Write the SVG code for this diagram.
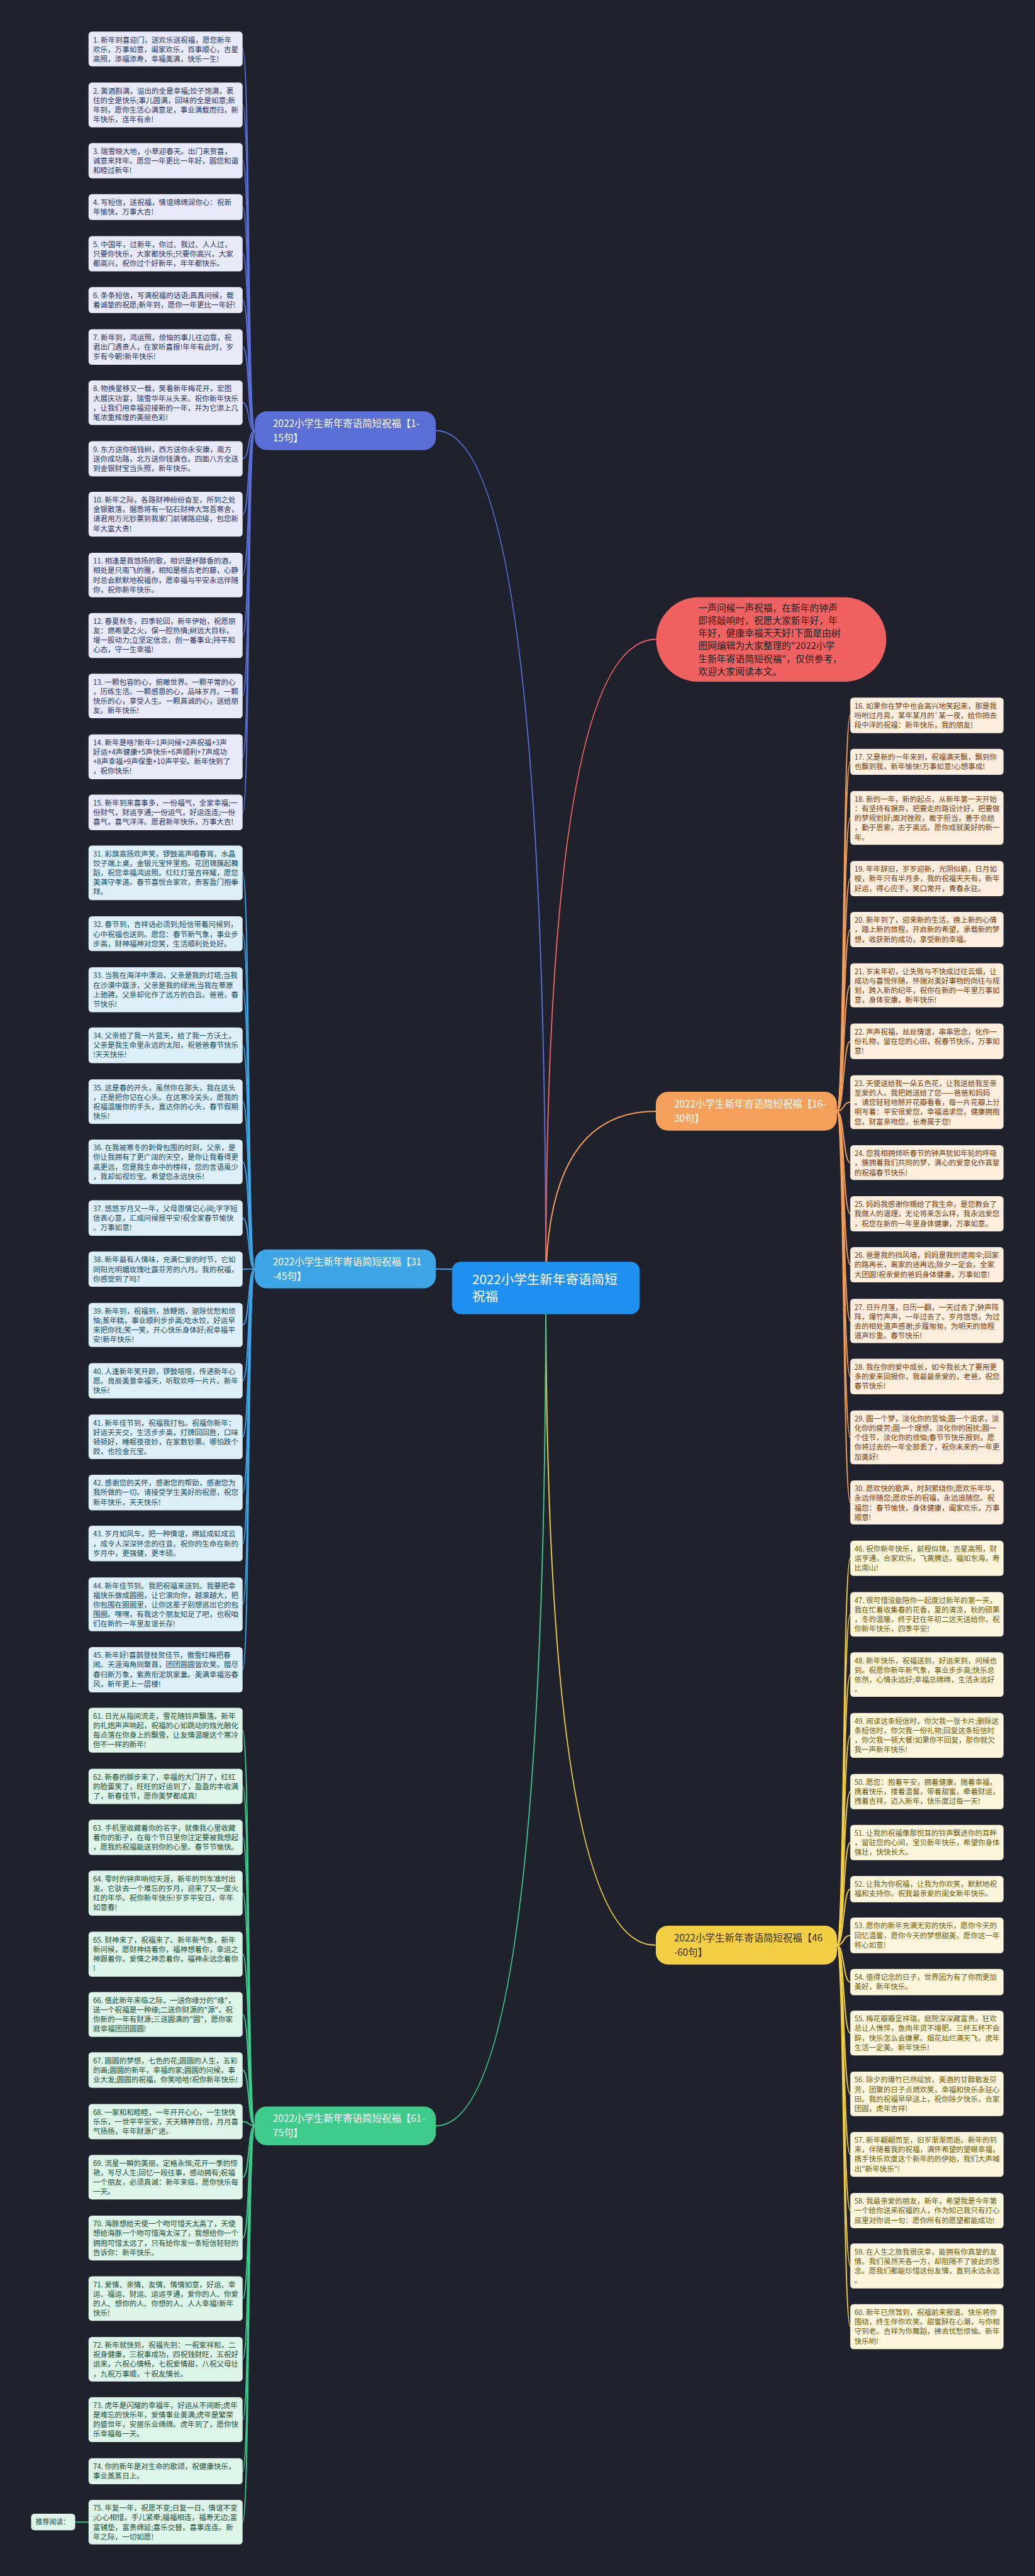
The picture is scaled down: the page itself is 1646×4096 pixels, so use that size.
<svg xmlns="http://www.w3.org/2000/svg" width="1646" height="4096" viewBox="0 0 1646 4096">
<style>
text{font-family:"Noto Sans CJK SC","Noto Sans",sans-serif}
.lt{font-size:18px}
.bt{font-size:24px}
.box{}
.g1 .box{fill:#e8eaf9}.g1 text{fill:#28346a}
.g2 .box{fill:#fdeede}.g2 text{fill:#7a3b0c}
.g3 .box{fill:#ddf0fa}.g3 text{fill:#164a63}
.g4 .box{fill:#fcf7dc}.g4 text{fill:#6f5a0c}
.g5 .box{fill:#ddf4e9}.g5 text{fill:#1b5038}
.cn{fill:none;stroke-width:3;stroke-linecap:round}
.k1{stroke:#5a6ed6}.k2{stroke:#f4a05a}.k3{stroke:#3ea6e6}.k4{stroke:#f3cf45}.k5{stroke:#3ecb8c}.k0{stroke:#f06262}
</style>
<rect x="0" y="0" width="1646" height="4096" fill="#1f222d"/>
<g transform="scale(0.643)">
<g id="connectors">
<path class="cn k1" d="M1350,3185 Q1350,1065 1078,1065"/>
<path class="cn k0" d="M1350,3185 Q1350,1581 1623,1581"/>
<path class="cn k2" d="M1350,3185 Q1350,2748 1622,2748"/>
<path class="cn k3" d="M1350,3185 Q1350,3138 1078,3138"/>
<path class="cn k4" d="M1350,3185 Q1350,4810 1620,4810"/>
<path class="cn k5" d="M1350,3185 Q1350,5257 1078,5257"/>
<g class="cn k1">
<path d="M630,1065 C612,1065 618,121 600,121"/><path d="M630,1065 C612,1065 618,259.5 600,259.5"/><path d="M630,1065 C612,1065 618,397.5 600,397.5"/><path d="M630,1065 C612,1065 618,512 600,512"/><path d="M630,1065 C612,1065 618,627.5 600,627.5"/><path d="M630,1065 C612,1065 618,742 600,742"/><path d="M630,1065 C612,1065 618,858 600,858"/><path d="M630,1065 C612,1065 618,996 600,996"/><path d="M630,1065 C612,1065 618,1134.5 600,1134.5"/><path d="M630,1065 C612,1065 618,1271.5 600,1271.5"/><path d="M630,1065 C612,1065 618,1422 600,1422"/><path d="M630,1065 C612,1065 618,1571.5 600,1571.5"/><path d="M630,1065 C612,1065 618,1721 600,1721"/><path d="M630,1065 C612,1065 618,1871.5 600,1871.5"/><path d="M630,1065 C612,1065 618,2009 600,2009"/>
</g>
<g class="cn k3">
<path d="M630,3138 C612,3138 618,2158.5 600,2158.5"/><path d="M630,3138 C612,3138 618,2309 600,2309"/><path d="M630,3138 C612,3138 618,2447.5 600,2447.5"/><path d="M630,3138 C612,3138 618,2585 600,2585"/><path d="M630,3138 C612,3138 618,2724 600,2724"/><path d="M630,3138 C612,3138 618,2873 600,2873"/><path d="M630,3138 C612,3138 618,3012 600,3012"/><path d="M630,3138 C612,3138 618,3138.5 600,3138.5"/><path d="M630,3138 C612,3138 618,3276.5 600,3276.5"/><path d="M630,3138 C612,3138 618,3414.5 600,3414.5"/><path d="M630,3138 C612,3138 618,3553 600,3553"/><path d="M630,3138 C612,3138 618,3691 600,3691"/><path d="M630,3138 C612,3138 618,3817 600,3817"/><path d="M630,3138 C612,3138 618,3967.5 600,3967.5"/><path d="M630,3138 C612,3138 618,4129 600,4129"/>
</g>
<g class="cn k5">
<path d="M630,5257 C612,5257 618,4278.5 600,4278.5"/><path d="M630,5257 C612,5257 618,4417.5 600,4417.5"/><path d="M630,5257 C612,5257 618,4543.5 600,4543.5"/><path d="M630,5257 C612,5257 618,4681.5 600,4681.5"/><path d="M630,5257 C612,5257 618,4832.5 600,4832.5"/><path d="M630,5257 C612,5257 618,4981.5 600,4981.5"/><path d="M630,5257 C612,5257 618,5119 600,5119"/><path d="M630,5257 C612,5257 618,5246.5 600,5246.5"/><path d="M630,5257 C612,5257 618,5384 600,5384"/><path d="M630,5257 C612,5257 618,5534.5 600,5534.5"/><path d="M630,5257 C612,5257 618,5684 600,5684"/><path d="M630,5257 C612,5257 618,5834 600,5834"/><path d="M630,5257 C612,5257 618,5983.5 600,5983.5"/><path d="M630,5257 C612,5257 618,6111 600,6111"/><path d="M630,5257 C612,5257 618,6237 600,6237"/>
<path d="M186,6237 L219,6237"/>
</g>
<g class="cn k2">
<path d="M2070,2748 C2088,2748 2085,1769 2103,1769"/><path d="M2070,2748 C2088,2748 2085,1884 2103,1884"/><path d="M2070,2748 C2088,2748 2085,2022.5 2103,2022.5"/><path d="M2070,2748 C2088,2748 2085,2172.5 2103,2172.5"/><path d="M2070,2748 C2088,2748 2085,2298.5 2103,2298.5"/><path d="M2070,2748 C2088,2748 2085,2436.5 2103,2436.5"/><path d="M2070,2748 C2088,2748 2085,2575 2103,2575"/><path d="M2070,2748 C2088,2748 2085,2725.5 2103,2725.5"/><path d="M2070,2748 C2088,2748 2085,2875 2103,2875"/><path d="M2070,2748 C2088,2748 2085,3001.5 2103,3001.5"/><path d="M2070,2748 C2088,2748 2085,3127.5 2103,3127.5"/><path d="M2070,2748 C2088,2748 2085,3266.5 2103,3266.5"/><path d="M2070,2748 C2088,2748 2085,3404 2103,3404"/><path d="M2070,2748 C2088,2748 2085,3554.5 2103,3554.5"/><path d="M2070,2748 C2088,2748 2085,3715.5 2103,3715.5"/>
</g>
<g class="cn k4">
<path d="M2070,4810 C2088,4810 2085,3853.5 2103,3853.5"/><path d="M2070,4810 C2088,4810 2085,3992 2103,3992"/><path d="M2070,4810 C2088,4810 2085,4141 2103,4141"/><path d="M2070,4810 C2088,4810 2085,4291.5 2103,4291.5"/><path d="M2070,4810 C2088,4810 2085,4430.5 2103,4430.5"/><path d="M2070,4810 C2088,4810 2085,4556.5 2103,4556.5"/><path d="M2070,4810 C2088,4810 2085,4671.5 2103,4671.5"/><path d="M2070,4810 C2088,4810 2085,4786 2103,4786"/><path d="M2070,4810 C2088,4810 2085,4901.5 2103,4901.5"/><path d="M2070,4810 C2088,4810 2085,5027.5 2103,5027.5"/><path d="M2070,4810 C2088,4810 2085,5178 2103,5178"/><path d="M2070,4810 C2088,4810 2085,5327.5 2103,5327.5"/><path d="M2070,4810 C2088,4810 2085,5466.5 2103,5466.5"/><path d="M2070,4810 C2088,4810 2085,5603.5 2103,5603.5"/><path d="M2070,4810 C2088,4810 2085,5753.5 2103,5753.5"/>
</g>
</g>

<g id="center"><rect x="1118" y="3120" width="464" height="130" rx="22" fill="#1f8ff0"/><text font-size="32" fill="#ffffff"><tspan x="1168" y="3175">2022小学生新年寄语简短</tspan><tspan x="1168" y="3217">祝福</tspan></text></g>

<g id="intro"><rect x="1623" y="1477" width="569" height="209" rx="104.5" fill="#f06262"/><text font-size="23" fill="#1c1c1c"><tspan x="1727" y="1512">一声问候一声祝福，在新年的钟声</tspan><tspan x="1727" y="1543">即将敲响时，祝愿大家新年好，年</tspan><tspan x="1727" y="1574.5">年好，健康幸福天天好!下面是由树</tspan><tspan x="1727" y="1605.5">图网编辑为大家整理的"2022小学</tspan><tspan x="1727" y="1637">生新年寄语简短祝福"，仅供参考，</tspan><tspan x="1727" y="1668">欢迎大家阅读本文。</tspan></text></g>

<g id="b1"><rect x="630" y="1017" width="448" height="96" rx="30" fill="#5a6ed6"/><text class="bt" fill="#ffffff"><tspan x="675" y="1055.5">2022小学生新年寄语简短祝福【1-</tspan><tspan x="675" y="1091.5">15句】</tspan></text></g>
<g id="b16"><rect x="1622" y="2700" width="448" height="96" rx="30" fill="#f4a05a"/><text class="bt" fill="#ffffff"><tspan x="1667" y="2738.5">2022小学生新年寄语简短祝福【16-</tspan><tspan x="1667" y="2774.5">30句】</tspan></text></g>
<g id="b31"><rect x="630" y="3090" width="448" height="96" rx="30" fill="#3ea6e6"/><text class="bt" fill="#ffffff"><tspan x="675" y="3128.5">2022小学生新年寄语简短祝福【31</tspan><tspan x="675" y="3164.5">-45句】</tspan></text></g>
<g id="b46"><rect x="1622" y="4762" width="448" height="96" rx="30" fill="#f3cf45"/><text class="bt" fill="#3a3000"><tspan x="1667" y="4800.5">2022小学生新年寄语简短祝福【46</tspan><tspan x="1667" y="4836.5">-60句】</tspan></text></g>
<g id="b61"><rect x="630" y="5209" width="448" height="96" rx="30" fill="#3ecb8c"/><text class="bt" fill="#ffffff"><tspan x="675" y="5247.5">2022小学生新年寄语简短祝福【61-</tspan><tspan x="675" y="5283.5">75句】</tspan></text></g>

<g id="rec" class="g5"><rect class="box" x="77" y="6216" width="109" height="41" rx="8"/><text font-size="17" x="88" y="6243">推荐阅读：</text></g>

<g id="n1" class="g1"><rect class="box" x="219" y="78" width="381" height="86" rx="8"/><text class="lt"><tspan x="230" y="105">1. 新年到喜迎门，送欢乐送祝福，愿您新年</tspan><tspan x="230" y="128.5">欢乐，万事如意，阖家欢乐，百事顺心，吉星</tspan><tspan x="230" y="152">高照，添福添寿，幸福美满，快乐一生!</tspan></text></g>
<g id="n2" class="g1"><rect class="box" x="219" y="204" width="381" height="111" rx="8"/><text class="lt"><tspan x="230" y="231">2. 美酒斟满，溢出的全是幸福;饺子饱满，裹</tspan><tspan x="230" y="254.5">住的全是快乐;事儿圆满，回味的全是如意;新</tspan><tspan x="230" y="278">年到，愿你生活心满意足，事业满载而归，新</tspan><tspan x="230" y="301.5">年快乐，连年有余!</tspan></text></g>
<g id="n3" class="g1"><rect class="box" x="219" y="354" width="381" height="87" rx="8"/><text class="lt"><tspan x="230" y="381">3. 瑞雪映大地，小草迎春天。出门来贺喜，</tspan><tspan x="230" y="404.5">诚意来拜年。愿您一年更比一年好，圆您和谐</tspan><tspan x="230" y="428">和睦过新年!</tspan></text></g>
<g id="n4" class="g1"><rect class="box" x="219" y="480" width="381" height="64" rx="8"/><text class="lt"><tspan x="230" y="507">4. 写短信，送祝福，情谊绵绵润你心：祝新</tspan><tspan x="230" y="530.5">年愉快，万事大吉!</tspan></text></g>
<g id="n5" class="g1"><rect class="box" x="219" y="584" width="381" height="87" rx="8"/><text class="lt"><tspan x="230" y="611">5. 中国年，过新年，你过、我过、人人过，</tspan><tspan x="230" y="634.5">只要你快乐，大家都快乐;只要你高兴，大家</tspan><tspan x="230" y="658">都高兴，祝你过个好新年，年年都快乐。</tspan></text></g>
<g id="n6" class="g1"><rect class="box" x="219" y="710" width="381" height="64" rx="8"/><text class="lt"><tspan x="230" y="737">6. 条条短信，写满祝福的话语;真真问候，载</tspan><tspan x="230" y="760.5">着诚挚的祝愿;新年到，愿你一年更比一年好!</tspan></text></g>
<g id="n7" class="g1"><rect class="box" x="219" y="814" width="381" height="88" rx="8"/><text class="lt"><tspan x="230" y="841">7. 新年到，鸿运照，烦恼的事儿往边靠，祝</tspan><tspan x="230" y="864.5">君出门遇贵人，在家听喜报!年年有此时，岁</tspan><tspan x="230" y="888">岁有今朝!新年快乐!</tspan></text></g>
<g id="n8" class="g1"><rect class="box" x="219" y="941" width="381" height="110" rx="8"/><text class="lt"><tspan x="230" y="968">8. 物换星移又一载，笑看新年梅花开，宏图</tspan><tspan x="230" y="991.5">大展庆功宴，瑞雪华年从头来。祝你新年快乐</tspan><tspan x="230" y="1015">，让我们用幸福迎接新的一年，并为它添上几</tspan><tspan x="230" y="1038.5">笔浓重辉煌的美丽色彩!</tspan></text></g>
<g id="n9" class="g1"><rect class="box" x="219" y="1091" width="381" height="87" rx="8"/><text class="lt"><tspan x="230" y="1118">9. 东方送你摇钱树，西方送你永安康，南方</tspan><tspan x="230" y="1141.5">送你成功路，北方送你钱满仓。四面八方全送</tspan><tspan x="230" y="1165">到金银财宝当头照，新年快乐。</tspan></text></g>
<g id="n10" class="g1"><rect class="box" x="219" y="1216" width="381" height="111" rx="8"/><text class="lt"><tspan x="230" y="1243">10. 新年之际，各路财神纷纷沓至，所到之处</tspan><tspan x="230" y="1266.5">金银散落，据悉将有一钻石财神大驾吾寒舍，</tspan><tspan x="230" y="1290">请君用万元钞票到我家门前铺路迎接，包您新</tspan><tspan x="230" y="1313.5">年大富大贵!</tspan></text></g>
<g id="n11" class="g1"><rect class="box" x="219" y="1367" width="381" height="110" rx="8"/><text class="lt"><tspan x="230" y="1394">11. 相逢是首悠扬的歌，相识是杯醇香的酒，</tspan><tspan x="230" y="1417.5">相处是只南飞的雁，相知是根古老的藤，心静</tspan><tspan x="230" y="1441">时总会默默地祝福你，愿幸福与平安永远伴随</tspan><tspan x="230" y="1464.5">你，祝你新年快乐。</tspan></text></g>
<g id="n12" class="g1"><rect class="box" x="219" y="1516" width="381" height="111" rx="8"/><text class="lt"><tspan x="230" y="1543">12. 春夏秋冬，四季轮回，新年伊始，祝愿朋</tspan><tspan x="230" y="1566.5">友：燃希望之火，保一腔热情;树远大目标，</tspan><tspan x="230" y="1590">增一股动力;立坚定信念，创一番事业;持平和</tspan><tspan x="230" y="1613.5">心态，守一生幸福!</tspan></text></g>
<g id="n13" class="g1"><rect class="box" x="219" y="1666" width="381" height="110" rx="8"/><text class="lt"><tspan x="230" y="1693">13. 一颗包容的心，俯瞰世界。一颗平常的心</tspan><tspan x="230" y="1716.5">，历练生活。一颗感恩的心，品味岁月。一颗</tspan><tspan x="230" y="1740">快乐的心，享受人生。一颗真诚的心，送给朋</tspan><tspan x="230" y="1763.5">友。新年快乐!</tspan></text></g>
<g id="n14" class="g1"><rect class="box" x="219" y="1816" width="381" height="111" rx="8"/><text class="lt"><tspan x="230" y="1843">14. 新年是啥?新年=1声问候+2声祝福+3声</tspan><tspan x="230" y="1866.5">好运+4声健康+5声快乐+6声顺利+7声成功</tspan><tspan x="230" y="1890">+8声幸福+9声保重+10声平安。新年快到了</tspan><tspan x="230" y="1913.5">，祝你快乐!</tspan></text></g>
<g id="n15" class="g1"><rect class="box" x="219" y="1965" width="381" height="88" rx="8"/><text class="lt"><tspan x="230" y="1992">15. 新年到来喜事多，一份福气，全家幸福;一</tspan><tspan x="230" y="2015.5">份财气，财运亨通;一份运气，好运连连;一份</tspan><tspan x="230" y="2039">喜气，喜气洋洋。愿君新年快乐，万事大吉!</tspan></text></g>

<g id="n31" class="g3"><rect class="box" x="219" y="2091" width="381" height="135" rx="8"/><text class="lt"><tspan x="230" y="2118">31. 彩旗高扬欢声笑，锣鼓高声唱春宵。水晶</tspan><tspan x="230" y="2141.5">饺子端上桌，金银元宝怀里抱。花团锦簇起舞</tspan><tspan x="230" y="2165">蹈，祝您幸福鸿运照。红红灯笼吉祥耀，愿您</tspan><tspan x="230" y="2188.5">美满守孝道。春节喜悦合家欢，贵客盈门抱拳</tspan><tspan x="230" y="2212">拜。</tspan></text></g>
<g id="n32" class="g3"><rect class="box" x="219" y="2266" width="381" height="86" rx="8"/><text class="lt"><tspan x="230" y="2293">32. 春节到，吉祥话必须到;短信带着问候到，</tspan><tspan x="230" y="2316.5">心中祝福也送到。愿您：春节新气象，事业步</tspan><tspan x="230" y="2340">步高，财神福神对您笑，生活顺利处处好。</tspan></text></g>
<g id="n33" class="g3"><rect class="box" x="219" y="2392" width="381" height="111" rx="8"/><text class="lt"><tspan x="230" y="2419">33. 当我在海洋中漂泊，父亲是我的灯塔;当我</tspan><tspan x="230" y="2442.5">在沙漠中跋涉，父亲是我的绿洲;当我在草原</tspan><tspan x="230" y="2466">上驰骋，父亲却化作了远方的白云。爸爸，春</tspan><tspan x="230" y="2489.5">节快乐!</tspan></text></g>
<g id="n34" class="g3"><rect class="box" x="219" y="2541" width="381" height="88" rx="8"/><text class="lt"><tspan x="230" y="2568">34. 父亲给了我一片蓝天，给了我一方沃土，</tspan><tspan x="230" y="2591.5">父亲是我生命里永远的太阳，祝爸爸春节快乐</tspan><tspan x="230" y="2615">!天天快乐!</tspan></text></g>
<g id="n35" class="g3"><rect class="box" x="219" y="2669" width="381" height="110" rx="8"/><text class="lt"><tspan x="230" y="2696">35. 这是春的开头，虽然你在那头，我在这头</tspan><tspan x="230" y="2719.5">，还是把你记在心头。在这寒冷关头，愿我的</tspan><tspan x="230" y="2743">祝福温暖你的手头，直达你的心头，春节假期</tspan><tspan x="230" y="2766.5">快乐!</tspan></text></g>
<g id="n36" class="g3"><rect class="box" x="219" y="2818" width="381" height="110" rx="8"/><text class="lt"><tspan x="230" y="2845">36. 在我被寒冬的刺骨包围的时刻，父亲，是</tspan><tspan x="230" y="2868.5">你让我拥有了更广阔的天空，是你让我看得更</tspan><tspan x="230" y="2892">高更远，您是我生命中的榜样，您的言语虽少</tspan><tspan x="230" y="2915.5">，我却如视珍宝。希望您永远快乐!</tspan></text></g>
<g id="n37" class="g3"><rect class="box" x="219" y="2968" width="381" height="88" rx="8"/><text class="lt"><tspan x="230" y="2995">37. 悠悠岁月又一年，父母恩情记心间;字字短</tspan><tspan x="230" y="3018.5">信表心意，汇成问候报平安!祝全家春节愉快</tspan><tspan x="230" y="3042">、万事如意!</tspan></text></g>
<g id="n38" class="g3"><rect class="box" x="219" y="3095" width="381" height="87" rx="8"/><text class="lt"><tspan x="230" y="3122">38. 新年最有人情味，充满仁爱的时节，它如</tspan><tspan x="230" y="3145.5">同阳光明媚玫瑰吐露芬芳的六月。我的祝福，</tspan><tspan x="230" y="3169">你感觉到了吗?</tspan></text></g>
<g id="n39" class="g3"><rect class="box" x="219" y="3222" width="381" height="109" rx="8"/><text class="lt"><tspan x="230" y="3249">39. 新年到，祝福到，放鞭炮，驱除忧愁和烦</tspan><tspan x="230" y="3272.5">恼;蒸年糕，事业顺利步步高;吃水饺，好运早</tspan><tspan x="230" y="3296">来把你找;笑一笑，开心快乐身体好;祝幸福平</tspan><tspan x="230" y="3319.5">安!新年快乐!</tspan></text></g>
<g id="n40" class="g3"><rect class="box" x="219" y="3371" width="381" height="87" rx="8"/><text class="lt"><tspan x="230" y="3398">40. 人逢新年笑开颜，锣鼓喧喧，传递新年心</tspan><tspan x="230" y="3421.5">愿。良辰美景幸福天，听取欢呼一片片。新年</tspan><tspan x="230" y="3445">快乐!</tspan></text></g>
<g id="n41" class="g3"><rect class="box" x="219" y="3498" width="381" height="110" rx="8"/><text class="lt"><tspan x="230" y="3525">41. 新年佳节到，祝福我打包。祝福你新年：</tspan><tspan x="230" y="3548.5">好运天天交，生活步步高，打牌回回胜，口味</tspan><tspan x="230" y="3572">顿顿好，睡眠夜夜妙，在家数钞票。哪怕跌个</tspan><tspan x="230" y="3595.5">跤，也捡金元宝。</tspan></text></g>
<g id="n42" class="g3"><rect class="box" x="219" y="3647" width="381" height="88" rx="8"/><text class="lt"><tspan x="230" y="3674">42. 感谢您的关怀，感谢您的帮助，感谢您为</tspan><tspan x="230" y="3697.5">我所做的一切。请接受学生美好的祝愿，祝您</tspan><tspan x="230" y="3721">新年快乐，天天快乐!</tspan></text></g>
<g id="n43" class="g3"><rect class="box" x="219" y="3773" width="381" height="88" rx="8"/><text class="lt"><tspan x="230" y="3800">43. 岁月如风车，把一种情谊，绵延成虹成云</tspan><tspan x="230" y="3823.5">，成令人深深怀念的往昔。祝你的生命在新的</tspan><tspan x="230" y="3847">岁月中，更强健，更丰硕。</tspan></text></g>
<g id="n44" class="g3"><rect class="box" x="219" y="3901" width="381" height="133" rx="8"/><text class="lt"><tspan x="230" y="3928">44. 新年佳节到。我把祝福来送到。我要把幸</tspan><tspan x="230" y="3951.5">福快乐做成圆圈，让它滚向你，越滚越大，把</tspan><tspan x="230" y="3975">你包围在圈圈里，让你这辈子别想逃出它的包</tspan><tspan x="230" y="3998.5">围圈。嘿嘿，有我这个朋友知足了吧，也祝咱</tspan><tspan x="230" y="4022">们在新的一年里友谊长存!</tspan></text></g>
<g id="n45" class="g3"><rect class="box" x="219" y="4073" width="381" height="112" rx="8"/><text class="lt"><tspan x="230" y="4100">45. 新年好!喜鹊登枝贺佳节，傲雪红梅把春</tspan><tspan x="230" y="4123.5">闹。天涯海角同聚首，团团圆圆皆欢笑。腊尽</tspan><tspan x="230" y="4147">春归新万象，紫燕衔泥筑家巢。美满幸福浴春</tspan><tspan x="230" y="4170.5">风，新年更上一层楼!</tspan></text></g>

<g id="n61" class="g5"><rect class="box" x="219" y="4223" width="381" height="111" rx="8"/><text class="lt"><tspan x="230" y="4250">61. 日光从指间流走，雪花随铃声飘落。新年</tspan><tspan x="230" y="4273.5">的礼炮声声响起，祝福的心如跳动的烛光融化</tspan><tspan x="230" y="4297">每点落在你身上的飘雪，让友情温暖这个寒冷</tspan><tspan x="230" y="4320.5">但不一样的新年!</tspan></text></g>
<g id="n62" class="g5"><rect class="box" x="219" y="4374" width="381" height="87" rx="8"/><text class="lt"><tspan x="230" y="4401">62. 新春的脚步来了，幸福的大门开了，红红</tspan><tspan x="230" y="4424.5">的脸蛋笑了，旺旺的好运到了，盈盈的丰收满</tspan><tspan x="230" y="4448">了，新春佳节，愿你美梦都成真!</tspan></text></g>
<g id="n63" class="g5"><rect class="box" x="219" y="4500" width="381" height="87" rx="8"/><text class="lt"><tspan x="230" y="4527">63. 手机里收藏着你的名字，就像我心里收藏</tspan><tspan x="230" y="4550.5">着你的影子，在每个节日里你注定要被我想起</tspan><tspan x="230" y="4574">，愿我的祝福能送到你的心里。春节节愉快。</tspan></text></g>
<g id="n64" class="g5"><rect class="box" x="219" y="4626" width="381" height="111" rx="8"/><text class="lt"><tspan x="230" y="4653">64. 零时的钟声响彻天涯，新年的列车准时出</tspan><tspan x="230" y="4676.5">发。它驮去一个难忘的岁月，迎来了又一度火</tspan><tspan x="230" y="4700">红的年华。祝你新年快乐!岁岁平安日，年年</tspan><tspan x="230" y="4723.5">如意春!</tspan></text></g>
<g id="n65" class="g5"><rect class="box" x="219" y="4777" width="381" height="111" rx="8"/><text class="lt"><tspan x="230" y="4804">65. 财神来了，祝福来了。新年新气象，新年</tspan><tspan x="230" y="4827.5">新问候，愿财神绕着你，福神想着你，幸运之</tspan><tspan x="230" y="4851">神跟着你，爱情之神恋着你，福神永远念着你</tspan><tspan x="230" y="4874.5">!</tspan></text></g>
<g id="n66" class="g5"><rect class="box" x="219" y="4926" width="381" height="111" rx="8"/><text class="lt"><tspan x="230" y="4953">66. 值此新年来临之际，一送你缘分的"缘"，</tspan><tspan x="230" y="4976.5">送一个祝福是一种缘;二送你财源的"源"，祝</tspan><tspan x="230" y="5000">你新的一年有财源;三送圆满的"圆"，愿你家</tspan><tspan x="230" y="5023.5">庭幸福团团圆圆!</tspan></text></g>
<g id="n67" class="g5"><rect class="box" x="219" y="5075" width="381" height="88" rx="8"/><text class="lt"><tspan x="230" y="5102">67. 圆圆的梦想，七色的花;圆圆的人生，五彩</tspan><tspan x="230" y="5125.5">的画;圆圆的新年，幸福的家;圆圆的问候，事</tspan><tspan x="230" y="5149">业大发;圆圆的祝福，你笑哈哈!祝你新年快乐!</tspan></text></g>
<g id="n68" class="g5"><rect class="box" x="219" y="5203" width="381" height="87" rx="8"/><text class="lt"><tspan x="230" y="5230">68. 一家和和睦睦，一年开开心心，一生快快</tspan><tspan x="230" y="5253.5">乐乐，一世平平安安，天天精神百倍，月月喜</tspan><tspan x="230" y="5277">气扬扬，年年财源广进。</tspan></text></g>
<g id="n69" class="g5"><rect class="box" x="219" y="5329" width="381" height="110" rx="8"/><text class="lt"><tspan x="230" y="5356">69. 流星一瞬的美丽，定格永恒;花开一季的惊</tspan><tspan x="230" y="5379.5">艳，写尽人生;回忆一段往事，感动拥有;祝福</tspan><tspan x="230" y="5403">一个朋友，必须真诚：新年来临，愿你快乐每</tspan><tspan x="230" y="5426.5">一天。</tspan></text></g>
<g id="n70" class="g5"><rect class="box" x="219" y="5479" width="381" height="111" rx="8"/><text class="lt"><tspan x="230" y="5506">70. 海豚想给天使一个吻可惜天太高了，天使</tspan><tspan x="230" y="5529.5">想给海豚一个吻可惜海太深了，我想给你一个</tspan><tspan x="230" y="5553">拥抱可惜太远了，只有给你发一条短信轻轻的</tspan><tspan x="230" y="5576.5">告诉你：新年快乐。</tspan></text></g>
<g id="n71" class="g5"><rect class="box" x="219" y="5629" width="381" height="110" rx="8"/><text class="lt"><tspan x="230" y="5656">71. 爱情、亲情、友情、情情如意，好运、幸</tspan><tspan x="230" y="5679.5">运、福运、财运、运运亨通，爱你的人、你爱</tspan><tspan x="230" y="5703">的人、想你的人、你想的人、人人幸福!新年</tspan><tspan x="230" y="5726.5">快乐!</tspan></text></g>
<g id="n72" class="g5"><rect class="box" x="219" y="5779" width="381" height="110" rx="8"/><text class="lt"><tspan x="230" y="5806">72. 新年就快到，祝福先到：一祝家祥和，二</tspan><tspan x="230" y="5829.5">祝身健康，三祝事成功，四祝钱财旺，五祝好</tspan><tspan x="230" y="5853">运来，六祝心情畅，七祝爱情甜，八祝父母壮</tspan><tspan x="230" y="5876.5">，九祝万事顺，十祝友情长。</tspan></text></g>
<g id="n73" class="g5"><rect class="box" x="219" y="5928" width="381" height="111" rx="8"/><text class="lt"><tspan x="230" y="5955">73. 虎年是闪耀的幸福年，好运从不间断;虎年</tspan><tspan x="230" y="5978.5">是难忘的快乐年，爱情事业美满;虎年是繁荣</tspan><tspan x="230" y="6002">的盛世年，安居乐业绵绵。虎年到了，愿你快</tspan><tspan x="230" y="6025.5">乐幸福每一天。</tspan></text></g>
<g id="n74" class="g5"><rect class="box" x="219" y="6079" width="381" height="64" rx="8"/><text class="lt"><tspan x="230" y="6106">74. 你的新年是对生命的歌颂，祝健康快乐，</tspan><tspan x="230" y="6129.5">事业蒸蒸日上。</tspan></text></g>
<g id="n75" class="g5"><rect class="box" x="219" y="6182" width="381" height="110" rx="8"/><text class="lt"><tspan x="230" y="6209">75. 年复一年，祝愿不变;日复一日，情谊不变</tspan><tspan x="230" y="6232.5">;心心相惜，手儿紧牵;福福相连，福寿无边;富</tspan><tspan x="230" y="6256">富铺垫，富贵绵延;喜乐交替，喜事连连。新</tspan><tspan x="230" y="6279.5">年之际，一切如愿!</tspan></text></g>

<g id="n16" class="g2"><rect class="box" x="2103" y="1725" width="379" height="88" rx="8"/><text class="lt"><tspan x="2113" y="1752">16. 如果你在梦中也会高兴地笑起来，那是我</tspan><tspan x="2113" y="1775.5">吩咐过月亮，某年某月的`某一夜，给你捎去</tspan><tspan x="2113" y="1799">段中洋的祝福：新年快乐，我的朋友!</tspan></text></g>
<g id="n17" class="g2"><rect class="box" x="2103" y="1852" width="379" height="64" rx="8"/><text class="lt"><tspan x="2113" y="1879">17. 又是新的一年来到，祝福满天飘，飘到你</tspan><tspan x="2113" y="1902.5">也飘到我，新年愉快!万事如意!心想事成!</tspan></text></g>
<g id="n18" class="g2"><rect class="box" x="2103" y="1956" width="379" height="133" rx="8"/><text class="lt"><tspan x="2113" y="1983">18. 新的一年，新的起点，从新年第一天开始</tspan><tspan x="2113" y="2006.5">：有坚持有摒弃，把要走的路设计好，把要做</tspan><tspan x="2113" y="2030">的梦规划好;面对挫败，敢于担当，善于总结</tspan><tspan x="2113" y="2053.5">，勤于思索，志于高远。愿你成就美好的新一</tspan><tspan x="2113" y="2077">年。</tspan></text></g>
<g id="n19" class="g2"><rect class="box" x="2103" y="2129" width="379" height="87" rx="8"/><text class="lt"><tspan x="2113" y="2156">19. 年年辞旧，岁岁迎新，光阴似箭，日月如</tspan><tspan x="2113" y="2179.5">梭，新年只有半月多，我的祝福天天有，新年</tspan><tspan x="2113" y="2203">好运，得心应手，笑口常开，青春永驻。</tspan></text></g>
<g id="n20" class="g2"><rect class="box" x="2103" y="2255" width="379" height="87" rx="8"/><text class="lt"><tspan x="2113" y="2282">20. 新年到了，迎来新的生活，换上新的心情</tspan><tspan x="2113" y="2305.5">，踏上新的旅程，开启新的希望，承载新的梦</tspan><tspan x="2113" y="2329">想，收获新的成功，享受新的幸福。</tspan></text></g>
<g id="n21" class="g2"><rect class="box" x="2103" y="2382" width="379" height="109" rx="8"/><text class="lt"><tspan x="2113" y="2409">21. 岁末年初，让失败与不快成过往云烟，让</tspan><tspan x="2113" y="2432.5">成功与喜悦伴随，怀揣对美好事物的向往与规</tspan><tspan x="2113" y="2456">划，跨入新的纪年，祝你在新的一年里万事如</tspan><tspan x="2113" y="2479.5">意，身体安康，新年快乐!</tspan></text></g>
<g id="n22" class="g2"><rect class="box" x="2103" y="2531" width="379" height="88" rx="8"/><text class="lt"><tspan x="2113" y="2558">22. 声声祝福，丝丝情谊，串串思念，化作一</tspan><tspan x="2113" y="2581.5">份礼物，留在您的心田，祝春节快乐，万事如</tspan><tspan x="2113" y="2605">意!</tspan></text></g>
<g id="n23" class="g2"><rect class="box" x="2103" y="2659" width="379" height="133" rx="8"/><text class="lt"><tspan x="2113" y="2686">23. 天使送给我一朵五色花，让我送给我至亲</tspan><tspan x="2113" y="2709.5">至爱的人。我把她送给了您——爸爸和妈妈</tspan><tspan x="2113" y="2733">。请您轻轻地掰开花瓣看看，每一片花瓣上分</tspan><tspan x="2113" y="2756.5">明写着：平安很爱您，幸福追求您，健康拥抱</tspan><tspan x="2113" y="2780">您，财富亲吻您，长寿属于您!</tspan></text></g>
<g id="n24" class="g2"><rect class="box" x="2103" y="2832" width="379" height="86" rx="8"/><text class="lt"><tspan x="2113" y="2859">24. 您我相拥倾听春节的钟声犹如年轮的呼吸</tspan><tspan x="2113" y="2882.5">，簇拥着我们共同的梦，满心的爱意化作真挚</tspan><tspan x="2113" y="2906">的祝福春节快乐!</tspan></text></g>
<g id="n25" class="g2"><rect class="box" x="2103" y="2958" width="379" height="87" rx="8"/><text class="lt"><tspan x="2113" y="2985">25. 妈妈我感谢你赐给了我生命，是您教会了</tspan><tspan x="2113" y="3008.5">我做人的道理，无论将来怎么样，我永远爱您</tspan><tspan x="2113" y="3032">，祝您在新的一年里身体健康，万事如意。</tspan></text></g>
<g id="n26" class="g2"><rect class="box" x="2103" y="3084" width="379" height="87" rx="8"/><text class="lt"><tspan x="2113" y="3111">26. 爸是我的挡风墙，妈妈是我的遮雨伞;回家</tspan><tspan x="2113" y="3134.5">的路再长，离家的途再远;除夕一定会，全家</tspan><tspan x="2113" y="3158">大团圆!祝亲爱的爸妈身体健康，万事如意!</tspan></text></g>
<g id="n27" class="g2"><rect class="box" x="2103" y="3212" width="379" height="109" rx="8"/><text class="lt"><tspan x="2113" y="3239">27. 日升月落，日历一翻，一天过去了;钟声阵</tspan><tspan x="2113" y="3262.5">阵，爆竹声声，一年过去了。岁月悠悠，为过</tspan><tspan x="2113" y="3286">去的相处道声感谢;步履匆匆，为明天的旅程</tspan><tspan x="2113" y="3309.5">道声珍重。春节快乐!</tspan></text></g>
<g id="n28" class="g2"><rect class="box" x="2103" y="3360" width="379" height="88" rx="8"/><text class="lt"><tspan x="2113" y="3387">28. 我在你的爱中成长，如今我长大了要用更</tspan><tspan x="2113" y="3410.5">多的爱来回报你，我最最亲爱的，老爸，祝您</tspan><tspan x="2113" y="3434">春节快乐!</tspan></text></g>
<g id="n29" class="g2"><rect class="box" x="2103" y="3488" width="379" height="133" rx="8"/><text class="lt"><tspan x="2113" y="3515">29. 圆一个梦，淡化你的苦恼;圆一个追求，淡</tspan><tspan x="2113" y="3538.5">化你的疲劳;圆一个理想，淡化你的困扰;圆一</tspan><tspan x="2113" y="3562">个佳节，淡化你的烦恼;春节节快乐报到，愿</tspan><tspan x="2113" y="3585.5">你将过去的一年全部丢了，祝你未来的一年更</tspan><tspan x="2113" y="3609">加美好!</tspan></text></g>
<g id="n30" class="g2"><rect class="box" x="2103" y="3661" width="379" height="109" rx="8"/><text class="lt"><tspan x="2113" y="3688">30. 愿欢快的歌声，时刻萦绕你;愿欢乐年华，</tspan><tspan x="2113" y="3711.5">永远伴随您;愿欢乐的祝福，永远追随您。祝</tspan><tspan x="2113" y="3735">福您：春节愉快，身体健康，阖家欢乐，万事</tspan><tspan x="2113" y="3758.5">顺意!</tspan></text></g>

<g id="n46" class="g4"><rect class="box" x="2103" y="3810" width="379" height="87" rx="8"/><text class="lt"><tspan x="2113" y="3837">46. 祝你新年快乐，前程似锦，吉星高照，财</tspan><tspan x="2113" y="3860.5">运亨通，合家欢乐，飞黄腾达，福如东海，寿</tspan><tspan x="2113" y="3884">比南山!</tspan></text></g>
<g id="n47" class="g4"><rect class="box" x="2103" y="3937" width="379" height="110" rx="8"/><text class="lt"><tspan x="2113" y="3964">47. 很可惜没能陪你一起度过新年的第一天，</tspan><tspan x="2113" y="3987.5">我在忙着收集春的花香，夏的清凉，秋的硕果</tspan><tspan x="2113" y="4011">，冬的温暖，终于赶在年初二这天送给你，祝</tspan><tspan x="2113" y="4034.5">你新年快乐，四季平安!</tspan></text></g>
<g id="n48" class="g4"><rect class="box" x="2103" y="4086" width="379" height="110" rx="8"/><text class="lt"><tspan x="2113" y="4113">48. 新年快乐，祝福送到，好运来到，问候也</tspan><tspan x="2113" y="4136.5">到。祝愿你新年新气象，事业步步高;快乐总</tspan><tspan x="2113" y="4160">依然，心情永远好;幸福总绵绵，生活永远好</tspan><tspan x="2113" y="4183.5">。</tspan></text></g>
<g id="n49" class="g4"><rect class="box" x="2103" y="4236" width="379" height="111" rx="8"/><text class="lt"><tspan x="2113" y="4263">49. 阅读这条短信时，你欠我一张卡片;删除这</tspan><tspan x="2113" y="4286.5">条短信时，你欠我一份礼物;回复这条短信时</tspan><tspan x="2113" y="4310">，你欠我一顿大餐!如果你不回复，那你就欠</tspan><tspan x="2113" y="4333.5">我一声新年快乐!</tspan></text></g>
<g id="n50" class="g4"><rect class="box" x="2103" y="4387" width="379" height="87" rx="8"/><text class="lt"><tspan x="2113" y="4414">50. 愿您：抱着平安，拥着健康，揣着幸福，</tspan><tspan x="2113" y="4437.5">携着快乐，搂着温馨，带着甜蜜，牵着财运，</tspan><tspan x="2113" y="4461">拽着吉祥，迈入新年，快乐度过每一天!</tspan></text></g>
<g id="n51" class="g4"><rect class="box" x="2103" y="4513" width="379" height="87" rx="8"/><text class="lt"><tspan x="2113" y="4540">51. 让我的祝福像那悦耳的铃声飘进你的耳畔</tspan><tspan x="2113" y="4563.5">，留驻您的心间，宝贝新年快乐，希望你身体</tspan><tspan x="2113" y="4587">强壮，快快长大。</tspan></text></g>
<g id="n52" class="g4"><rect class="box" x="2103" y="4639" width="379" height="65" rx="8"/><text class="lt"><tspan x="2113" y="4666">52. 让我为你祝福，让我为你欢笑，默默地祝</tspan><tspan x="2113" y="4689.5">福和支持你。祝我最亲爱的闺女新年快乐。</tspan></text></g>
<g id="n53" class="g4"><rect class="box" x="2103" y="4742" width="379" height="88" rx="8"/><text class="lt"><tspan x="2113" y="4769">53. 愿你的新年充满无穷的快乐，愿你今天的</tspan><tspan x="2113" y="4792.5">回忆温馨，愿你今天的梦想甜美，愿你这一年</tspan><tspan x="2113" y="4816">称心如意!</tspan></text></g>
<g id="n54" class="g4"><rect class="box" x="2103" y="4869" width="379" height="65" rx="8"/><text class="lt"><tspan x="2113" y="4896">54. 值得记念的日子，世界因为有了你而更加</tspan><tspan x="2113" y="4919.5">美好，新年快乐。</tspan></text></g>
<g id="n55" class="g4"><rect class="box" x="2103" y="4972" width="379" height="111" rx="8"/><text class="lt"><tspan x="2113" y="4999">55. 梅花瓣瓣呈祥瑞，庭院深深藏富贵。狂欢</tspan><tspan x="2113" y="5022.5">总让人憔悴，鱼肉年货不增肥。三杯五杯不会</tspan><tspan x="2113" y="5046">醉，快乐怎么会嫌累。烟花灿烂满天飞，虎年</tspan><tspan x="2113" y="5069.5">生活一定美。新年快乐!</tspan></text></g>
<g id="n56" class="g4"><rect class="box" x="2103" y="5123" width="379" height="110" rx="8"/><text class="lt"><tspan x="2113" y="5150">56. 除夕的爆竹已然绽放，美酒的甘醇散发芬</tspan><tspan x="2113" y="5173.5">芳，团聚的日子点燃欢笑，幸福和快乐永驻心</tspan><tspan x="2113" y="5197">田。我的祝福早早送上，祝你除夕快乐，合家</tspan><tspan x="2113" y="5220.5">团圆，虎年吉祥!</tspan></text></g>
<g id="n57" class="g4"><rect class="box" x="2103" y="5272" width="379" height="111" rx="8"/><text class="lt"><tspan x="2113" y="5299">57. 新年翩翩而至，旧岁渐渐而逝。新年的到</tspan><tspan x="2113" y="5322.5">来，伴随着我的祝福，满怀希望的望眼幸福，</tspan><tspan x="2113" y="5346">携手快乐欢度这个新年的的伊始，我们大声喊</tspan><tspan x="2113" y="5369.5">出"新年快乐"!</tspan></text></g>
<g id="n58" class="g4"><rect class="box" x="2103" y="5423" width="379" height="87" rx="8"/><text class="lt"><tspan x="2113" y="5450">58. 我最亲爱的朋友，新年，希望我是今年第</tspan><tspan x="2113" y="5473.5">一个给你送来祝福的人，作为知己我只有打心</tspan><tspan x="2113" y="5497">底里对你说一句：愿你所有的愿望都能成功!</tspan></text></g>
<g id="n59" class="g4"><rect class="box" x="2103" y="5548" width="379" height="111" rx="8"/><text class="lt"><tspan x="2113" y="5575">59. 在人生之旅我很庆幸，能拥有你真挚的友</tspan><tspan x="2113" y="5598.5">情。我们虽然天各一方，却阻隔不了彼此的思</tspan><tspan x="2113" y="5622">念。愿我们都能珍惜这份友情，直到永远永远</tspan><tspan x="2113" y="5645.5">。</tspan></text></g>
<g id="n60" class="g4"><rect class="box" x="2103" y="5698" width="379" height="111" rx="8"/><text class="lt"><tspan x="2113" y="5725">60. 新年已然驾到，祝福前来报道。快乐将你</tspan><tspan x="2113" y="5748.5">围绕，终生伴你欢笑。甜蜜醉在心潮，与你相</tspan><tspan x="2113" y="5772">守到老。吉祥为你舞蹈，拂去忧愁烦恼。新年</tspan><tspan x="2113" y="5795.5">快乐哟!</tspan></text></g>
</g>
</svg>
